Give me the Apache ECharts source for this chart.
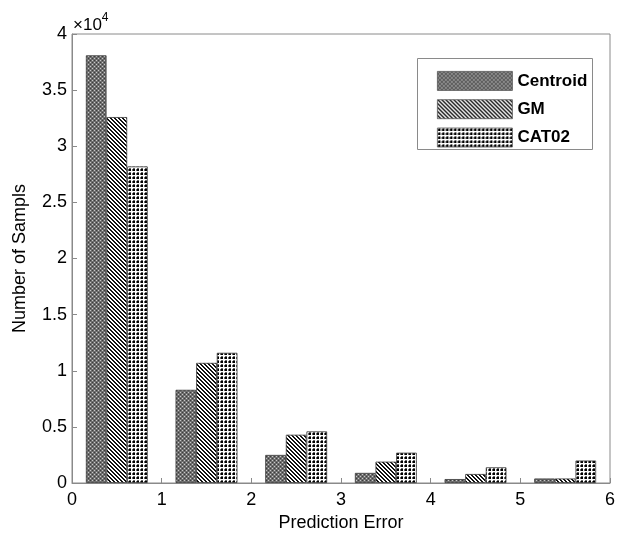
<!DOCTYPE html>
<html>
<head>
<meta charset="utf-8">
<script src="https://cdn.jsdelivr.net/npm/echarts@6/dist/echarts.min.js"></script>
<style>
  html, body { margin: 0; padding: 0; background: #fff; }
  #chart { width: 620px; height: 537px; }
</style>
</head>
<body>
<div id="chart"></div>
<script>
// 数据：每组 6 个区间（预测误差 0-1, 1-2, ... 5-6）
const bins = ['0-1', '1-2', '2-3', '3-4', '4-5', '5-6'];
const seriesNames = ['Centroid', 'GM', 'CAT02'];
const centroid = [38100, 8300, 2500, 900, 350, 400];
const gm = [32600, 10700, 4300, 1900, 800, 400];
const cat02 = [28200, 11600, 4600, 2700, 1400, 2000];
const yTicks = [0, 5000, 10000, 15000, 20000, 25000, 30000, 35000, 40000];

// 画一个小的像素贴图，用作填充图案
function makeTile(size, paint) {
    const c = document.createElement('canvas');
    c.width = size;
    c.height = size;
    const ctx = c.getContext('2d');
    for (let y = 0; y < size; y++) {
        for (let x = 0; x < size; x++) {
            ctx.fillStyle = paint(x, y);
            ctx.fillRect(x, y, 1, 1);
        }
    }
    return { image: c, repeat: 'repeat' };
}

// Centroid：灰色细格纹
const centroidFill = makeTile(4, (x, y) => {
    if ((x === 0 && y === 0) || (x === 2 && y === 2)) return '#c8c8c8';
    if ((x === 2 && y === 0) || (x === 0 && y === 2)) return '#3c3c3c';
    return '#6e6e6e';
});
// GM：左上到右下的斜线
const gmFill = makeTile(4, (x, y) => ((x - y + 8) % 4 < 2 ? '#111' : '#fff'));
// CAT02：黑点网格
const catFill = makeTile(4, (x, y) => {
    if (x >= 1 && x <= 2 && y >= 1 && y <= 2) return '#000';
    if ((x === 0 && (y === 1 || y === 2)) || (y === 0 && (x === 1 || x === 2))) return '#666';
    return '#fff';
});

const fills = [centroidFill, gmFill, catFill];
const values = [centroid, gm, cat02];

const chart = echarts.init(document.getElementById('chart'));
const font = '"Liberation Sans", Arial, sans-serif';

const option = {
    animation: false,
    backgroundColor: '#fff',
    grid: {
        left: 72, right: 10, top: 34, bottom: 51,
        show: true, borderColor: '#8a8a8a', borderWidth: 1
    },
    legend: {
        orient: 'vertical',
        left: 432, top: 66,
        itemWidth: 75, itemHeight: 19, itemGap: 8.5,
        icon: 'rect',
        data: seriesNames,
        itemStyle: { borderColor: '#555', borderWidth: 0.8 },
        textStyle: { fontFamily: font, fontSize: 17, fontWeight: 'bold', color: '#000' }
    },
    xAxis: [{
        type: 'category',
        data: bins,
        show: false
    }, {
        type: 'value',
        min: 0, max: 6, interval: 1,
        position: 'bottom',
        name: 'Prediction Error',
        nameLocation: 'middle',
        nameGap: 31,
        nameTextStyle: { fontFamily: font, fontSize: 18, color: '#000' },
        axisLine: { show: true, lineStyle: { color: '#8a8a8a' } },
        axisTick: { show: true, inside: true, length: 5, lineStyle: { color: '#8a8a8a' } },
        axisLabel: { fontFamily: font, fontSize: 18, color: '#000', margin: 8 },
        splitLine: { show: false }
    }],
    yAxis: {
        type: 'value',
        min: 0, max: 40000, interval: 5000,
        name: 'Number of Sampls',
        nameLocation: 'middle',
        nameGap: 43,
        nameTextStyle: { fontFamily: font, fontSize: 18, color: '#000' },
        axisLine: { show: true, lineStyle: { color: '#8a8a8a' } },
        axisTick: { show: true, inside: true, length: 5, lineStyle: { color: '#8a8a8a' } },
        axisLabel: {
            fontFamily: font, fontSize: 18, color: '#000', margin: 5,
            formatter: v => (yTicks.indexOf(v) >= 0 ? String(v / 10000) : '')
        },
        splitLine: { show: false }
    },
    graphic: [{
        type: 'rect',
        shape: { x: 417.5, y: 58.5, width: 175, height: 91 },
        style: { fill: 'none', stroke: '#8a8a8a', lineWidth: 1 },
        z: 10
    }, {
        type: 'text',
        left: 73, top: 12,
        style: {
            text: '{a|×10}{b|4}',
            rich: {
                a: { fontFamily: font, fontSize: 17, color: '#000', verticalAlign: 'bottom', lineHeight: 22 },
                b: { fontFamily: font, fontSize: 12, color: '#000', verticalAlign: 'top', lineHeight: 22 }
            }
        }
    }],
    series: seriesNames.map((name, i) => ({
        name: name,
        type: 'bar',
        xAxisIndex: 0,
        data: values[i],
        barWidth: '23%',
        barGap: '0%',
        itemStyle: { color: fills[i], borderColor: '#3a3a3a', borderWidth: 0.8 }
    }))
};

chart.setOption(option);
</script>
</body>
</html>
